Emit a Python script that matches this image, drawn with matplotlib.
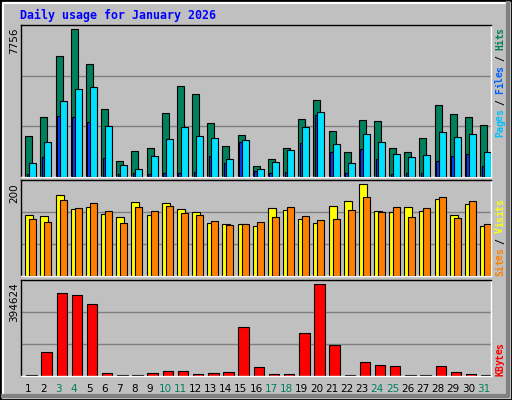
import matplotlib
matplotlib.use("Agg")
import matplotlib.pyplot as plt
from matplotlib.patches import Rectangle
from matplotlib.lines import Line2D

days = list(range(1, 32))
weekend_days = [3, 4, 10, 11, 17, 18, 24, 25, 31]
hits = [2123, 3124, 6336, 7756, 5914, 3545, 860, 1386, 1544, 3334, 4756, 4335, 2808, 1650, 2176, 597,
        965, 1544, 3019, 4019, 2387, 1334, 2966, 2913, 1544, 1334, 2018, 3756, 3282, 3124, 2703]
files = [755, 1860, 3966, 4598, 4703, 2650, 649, 439, 1123, 1966, 2597, 2123, 2018, 965, 1913, 439,
         807, 1439, 2597, 3387, 1755, 755, 2229, 1860, 1229, 1071, 1176, 2334, 2071, 2229, 1334]
pages = [158, 1071, 3177, 3124, 2861, 1018, 158, 211, 158, 211, 211, 263, 1123, 755, 1860, 333,
         211, 281, 1808, 3229, 1334, 228, 1492, 965, 158, 211, 211, 860, 1123, 1229, 597]
sites = [133, 130, 176, 146, 150, 135, 128, 161, 133, 159, 146, 139, 115, 113, 113, 109,
         148, 143, 124, 115, 152, 163, 200, 141, 139, 150, 141, 167, 133, 157, 109]
visits = [124, 117, 165, 148, 159, 141, 115, 150, 141, 152, 137, 133, 120, 111, 113, 117,
          128, 150, 130, 122, 124, 143, 172, 139, 150, 128, 148, 172, 126, 163, 113]
kbytes = [3000, 105120, 355680, 347040, 308160, 14400, 3000, 3000, 14400, 23040, 23040, 10080, 14400, 18720,
          208800, 40320, 10080, 10080, 187200, 394624, 135360, 3000, 61920, 48960, 44640, 3000, 3000,
          44640, 18720, 10080, 3000]

W, H = 512, 400
fig = plt.figure(figsize=(W/100, H/100), dpi=100)
fig.patch.set_facecolor("#C0C0C0")
mono = "DejaVu Sans Mono"

def fx(px): return px / W
def fy(py): return 1 - py / H

# frame
fig.add_artist(Rectangle((0, 0), 1, 1, transform=fig.transFigure, fill=False, ec="black", lw=2))
fig.add_artist(Line2D([fx(3), fx(3), fx(507)], [fy(396), fy(3), fy(3)], transform=fig.transFigure, color="white", lw=1.5))
fig.add_artist(Line2D([fx(3), fx(508), fx(508)], [fy(396), fy(396), fy(3)], transform=fig.transFigure, color="#808080", lw=3))

x0, x1 = 21, 491
def mkax(top, bot, ymax):
    ax = fig.add_axes([fx(x0), fy(bot), fx(x1 - x0), (bot - top) / H])
    ax.set_facecolor("#C0C0C0")
    ax.set_xlim(0.5, 31.5)
    ax.set_ylim(0, ymax)
    for v in (ymax / 3, 2 * ymax / 3):
        ax.axhline(v, color="#808080", lw=1, zorder=0)
    ax.set_xticks([]); ax.set_yticks([])
    ax.spines["top"].set_color("black"); ax.spines["left"].set_color("black")
    ax.spines["right"].set_color("white"); ax.spines["bottom"].set_color("white")
    for s in ax.spines.values(): s.set_linewidth(1)
    return ax

u = 1 / 15.16  # day units per pixel
lw = 0.8
ax1 = mkax(25, 177, 7966)
ax1.bar([d - 0.5 + 4.3*u for d in days], hits, width=7*u, align="edge", color="#00805C", ec="black", lw=lw, zorder=2)
ax1.bar([d - 0.5 + 5.8*u for d in days], pages, width=3*u, align="edge", color="#0040FF", ec="black", lw=lw, zorder=3)
ax1.bar([d - 0.5 + 8.3*u for d in days], files, width=7*u, align="edge", color="#00E0FF", ec="black", lw=lw, zorder=4)

ax2 = mkax(180, 276, 209)
ax2.bar([d - 0.5 + 4.3*u for d in days], sites, width=8*u, align="edge", color="#FFFF00", ec="black", lw=lw, zorder=2)
ax2.bar([d - 0.5 + 8.3*u for d in days], visits, width=7*u, align="edge", color="#FF8000", ec="black", lw=lw, zorder=3)

ax3 = mkax(280, 376, 413200)
ax3.bar([d - 0.5 + 5.2*u for d in days], kbytes, width=10.4*u, align="edge", color="#FF0000", ec="black", lw=lw, zorder=2)

fig.text(fx(20), fy(15), "Daily usage for January 2026", color="#0000FF", family=mono,
         weight="bold", fontsize=8.4, va="center", ha="left")

for d in days:
    px = x0 + (d - 0.5) * 15.16
    fig.text(fx(px), fy(389), str(d), ha="center", va="center", fontsize=7.5,
             color="#00805C" if d in weekend_days else "black")

fig.text(fx(14), fy(27), str(max(hits)), rotation=90, ha="center", va="top", fontsize=7.5)
fig.text(fx(14), fy(183), str(max(sites)), rotation=90, ha="center", va="top", fontsize=7.5)
fig.text(fx(14), fy(282), str(max(kbytes)), rotation=90, ha="center", va="top", fontsize=7.5)

def vlabel(parts, bottom_px, cw=5.45, xpx=500):
    y = bottom_px
    for txt, col in parts:
        for ch in txt:
            if ch != " ":
                fig.text(fx(xpx), fy(y - cw / 2), ch, rotation=90, ha="center", va="center",
                         family=mono, fontsize=7, weight="bold", color=col)
            y -= cw

vlabel([("Pages", "#00C0FF"), (" / ", "black"), ("Files", "#0060FF"), (" / ", "black"), ("Hits", "#00805C")], 137)
vlabel([("Sites", "#FF8000"), (" / ", "black"), ("Visits", "#FFFF00")], 276)
vlabel([("KBytes", "#FF0000")], 376)

fig.savefig("out.png", dpi=100, facecolor=fig.get_facecolor())
